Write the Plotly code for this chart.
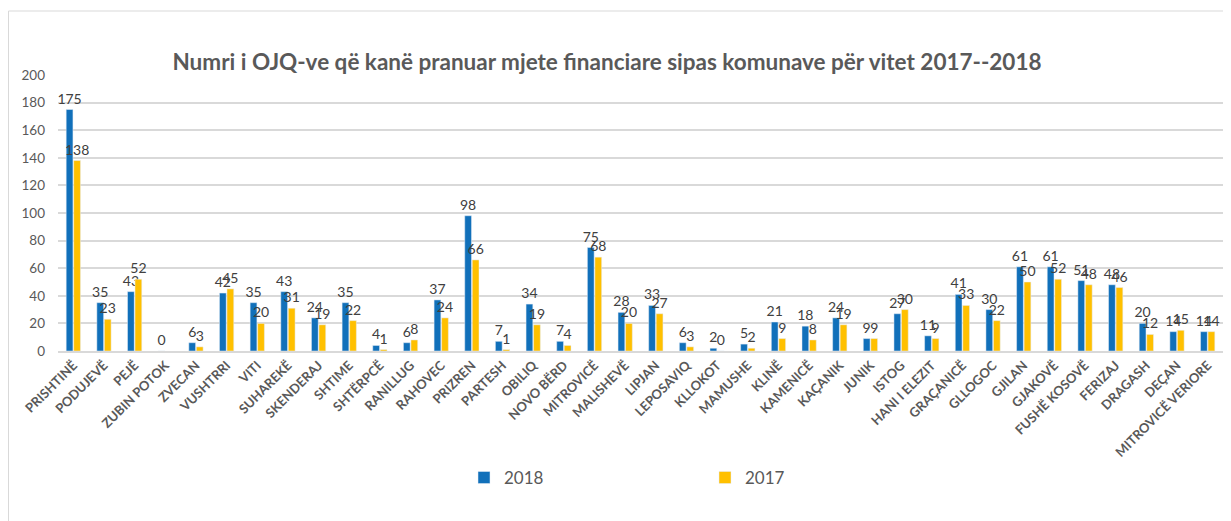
import plotly.graph_objects as go

categories = ["PRISHTINË", "PODUJEVË", "PEJË", "ZUBIN POTOK", "ZVECAN", "VUSHTRRI", "VITI",
              "SUHAREKË", "SKENDERAJ", "SHTIME", "SHTËRPCË", "RANILLUG", "RAHOVEC", "PRIZREN",
              "PARTESH", "OBILIQ", "NOVO BËRD", "MITROVICË", "MALISHEVË", "LIPJAN", "LEPOSAVIQ",
              "KLLOKOT", "MAMUSHE", "KLINË", "KAMENICË", "KAÇANIK", "JUNIK", "ISTOG",
              "HANI I ELEZIT", "GRAÇANICË", "GLLOGOC", "GJILAN", "GJAKOVË", "FUSHË KOSOVË",
              "FERIZAJ", "DRAGASH", "DEÇAN", "MITROVICË VERIORE"]

values_2018 = [175, 35, 43, 0, 6, 42, 35, 43, 24, 35, 4, 6, 37, 98, 7, 34, 7, 75, 28, 33, 6,
               2, 5, 21, 18, 24, 9, 27, 11, 41, 30, 61, 61, 51, 48, 20, 14, 14]
values_2017 = [138, 23, 52, None, 3, 45, 20, 31, 19, 22, 1, 8, 24, 66, 1, 19, 4, 68, 20, 27, 3,
               0, 2, 9, 8, 19, 9, 30, 9, 33, 22, 50, 52, 48, 46, 12, 15, 14]

y_ticks = [0, 20, 40, 60, 80, 100, 120, 140, 160, 180, 200]

FONT = "Lato, Calibri, Carlito, sans-serif"
GREY = "#595959"

def labels(vals):
    return ["" if v is None else str(v) for v in vals]

fig = go.Figure()
fig.add_trace(go.Bar(
    name="2018", x=categories, y=values_2018, marker_color="#1170BA",
    text=labels(values_2018), textposition="outside", constraintext="none",
    textfont=dict(family=FONT, size=14, color="#404040"), cliponaxis=False,
))
fig.add_trace(go.Bar(
    name="2017", x=categories, y=values_2017, marker_color="#FFC000",
    text=labels(values_2017), textposition="outside", constraintext="none",
    textfont=dict(family=FONT, size=14, color="#404040"), cliponaxis=False,
))

W, H = 1223, 513  # page body adds an 8px margin
fig.update_layout(
    width=W, height=H,
    margin=dict(l=50, r=8, t=67, b=170, autoexpand=False),
    paper_bgcolor="white", plot_bgcolor="white",
    barmode="group", bargap=0.51, bargroupgap=0.1,
    font=dict(family=FONT, color=GREY),
    title=dict(
        text="<b>Numri i OJQ-ve që kanë pranuar mjete financiare sipas komunave për vitet 2017--2018</b>",
        x=599 / W, xanchor="center", y=1 - 54 / H, yanchor="middle",
        font=dict(family=FONT, size=22.5, color=GREY),
    ),
    showlegend=True,
    legend=dict(
        orientation="h", x=(456 - 50) / 1165, xanchor="left", y=-0.46, yanchor="middle",
        entrywidth=196, entrywidthmode="pixels",
        font=dict(family=FONT, size=17, color=GREY),
    ),
    yaxis=dict(
        range=[0, 200], tickvals=y_ticks, showgrid=True, gridcolor="#D9D9D9", gridwidth=1.5,
        zeroline=False, showline=False, ticks="", ticklabelstandoff=12,
        tickfont=dict(family=FONT, size=13.5, color=GREY),
    ),
    xaxis=dict(
        tickangle=-45, showline=True, linecolor="#D9D9D9", linewidth=1.5, ticks="",
        tickfont=dict(family=FONT, size=13, color=GREY, weight="bold"),
    ),
    shapes=[dict(
        type="rect", xref="paper", yref="paper",
        x0=-49.5 / 1165, x1=1.05, y0=-0.7, y1=(351 - 11) / 276,
        line=dict(color="#D9D9D9", width=1), fillcolor="rgba(0,0,0,0)", layer="below",
    )],
)

fig.write_html("out.html")
